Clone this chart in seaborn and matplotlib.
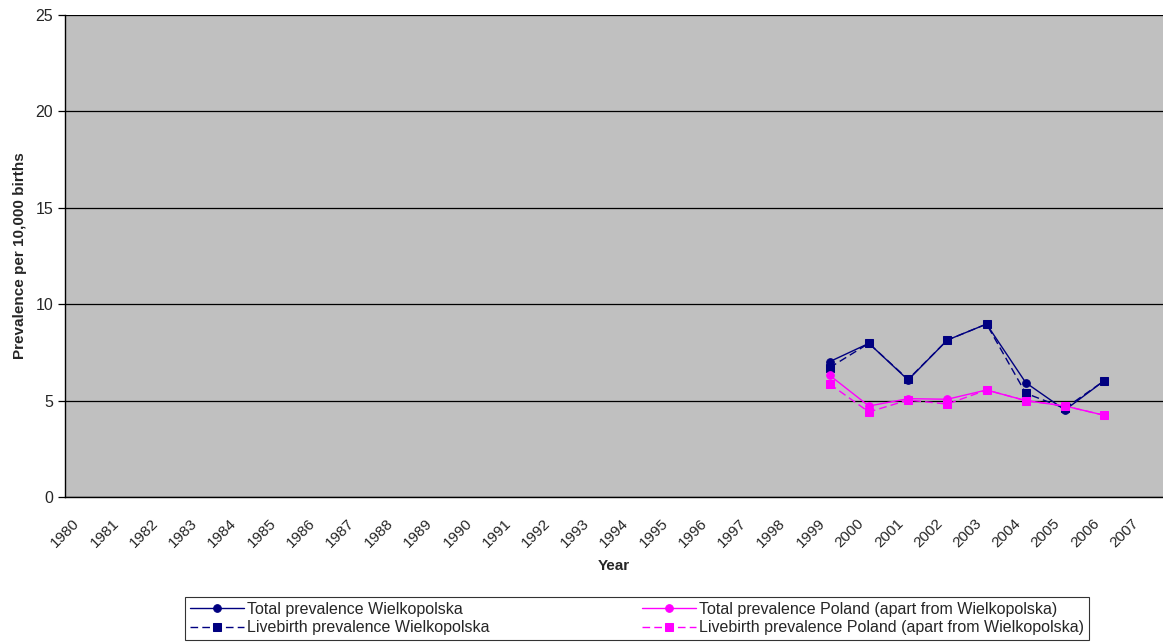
import matplotlib
matplotlib.use("Agg")
import matplotlib.pyplot as plt
import matplotlib.transforms as mtransforms
import numpy as np
import pandas as pd
import seaborn as sns

years = [str(y) for y in range(1980, 2008)]
data_years = [str(y) for y in range(1999, 2007)]

total_wlkp = [7.02, 7.97, 6.07, 8.14, 8.97, 5.93, 4.51, 6.03]
live_wlkp = [6.71, 7.97, 6.10, 8.14, 8.97, 5.38, 4.60, 6.03]
total_pl = [6.31, 4.72, 5.10, 5.07, 5.55, 5.00, 4.72, 4.24]
live_pl = [5.86, 4.41, 5.03, 4.82, 5.55, 5.00, 4.72, 4.24]

series_names = [
    "Total prevalence Wielkopolska",
    "Livebirth prevalence Wielkopolska",
    "Total prevalence Poland (apart from Wielkopolska)",
    "Livebirth prevalence Poland (apart from Wielkopolska)",
]
series_values = [total_wlkp, live_wlkp, total_pl, live_pl]
colors = ["#000080", "#000080", "#FF00FF", "#FF00FF"]
markers = ["o", "s", "o", "s"]
dashes = ["-", (0, (5.5, 3)), "-", (0, (5.5, 3))]

sns.set_style("white")
plt.rcParams["font.family"] = ["Liberation Sans", "DejaVu Sans"]

fig = plt.figure(figsize=(11.63, 6.43), dpi=100)
ax = fig.add_axes([65 / 1163, 1 - 497 / 643, 1 - 65 / 1163, (497 - 15) / 643])
ax.set_facecolor("#C0C0C0")

xpos = {y: i for i, y in enumerate(years)}
for name, vals, c, m, ls in zip(series_names, series_values, colors, markers, dashes):
    df = pd.DataFrame({"x": [xpos[y] for y in data_years], "y": vals})
    sns.lineplot(data=df, x="x", y="y", ax=ax, color=c, marker=m, markersize=5.5,
                 markeredgecolor=c, linewidth=1.0, linestyle=ls, label=name, legend=False)

ax.set_xlim(-0.5, len(years) - 0.5)
ax.set_ylim(0, 25)
ax.set_yticks([0, 5, 10, 15, 20, 25])
ax.yaxis.grid(True, color="black", linewidth=0.9)
ax.set_axisbelow(True)

ax.set_xticks(range(len(years)))
ax.set_xticklabels(years, rotation=45, ha="right", rotation_mode="anchor", fontsize=11)
ax.set_xticks(np.arange(-0.5, len(years), 1), minor=True)
ax.tick_params(axis="x", which="major", length=0, pad=14)
ax.tick_params(axis="x", which="minor", length=5, width=0.9, color="black", direction="out")
ax.tick_params(axis="y", length=5, width=0.9, color="black", direction="out", labelsize=11.5, left=True)

# shift year labels a little left, like the original
shift = mtransforms.ScaledTranslation(-12 / 100, 0, fig.dpi_scale_trans)
for lbl in ax.get_xticklabels():
    lbl.set_transform(lbl.get_transform() + shift)

for side in ["top", "right"]:
    ax.spines[side].set_visible(False)
for side in ["left", "bottom"]:
    ax.spines[side].set_color("black")
    ax.spines[side].set_linewidth(1.0)

ax.set_xlabel("Year", fontsize=11, fontweight="bold", labelpad=6)
ax.set_ylabel("Prevalence per 10,000 births", fontsize=11, fontweight="bold", labelpad=6)

handles, labels = ax.get_legend_handles_labels()
leg = fig.legend(handles, labels, ncol=2, loc="lower left", bbox_to_anchor=(185 / 1163, 3 / 643),
                 frameon=True, fancybox=False, edgecolor="black", fontsize=11.5,
                 handlelength=3.4, handletextpad=0.2, columnspacing=9.5,
                 borderpad=0.3, labelspacing=0.2, borderaxespad=0)
leg.get_frame().set_linewidth(0.8)

fig.savefig("out.png", dpi=100)
